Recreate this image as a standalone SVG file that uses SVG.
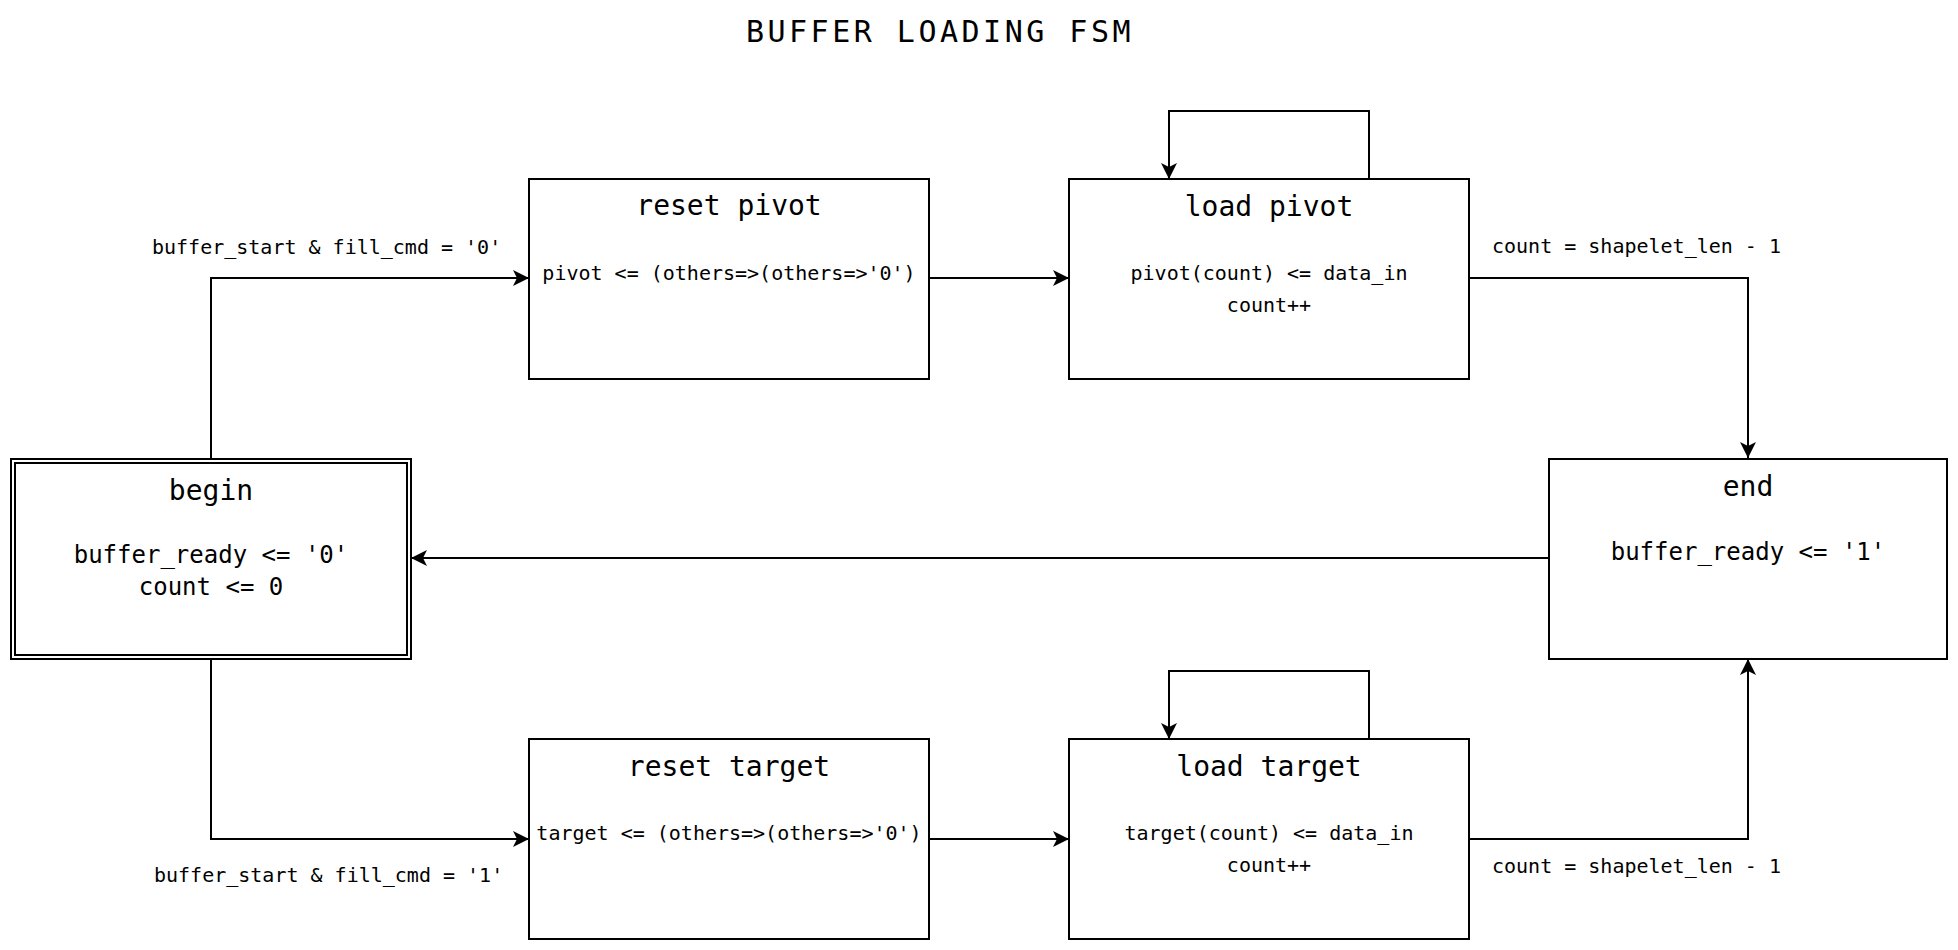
<svg xmlns="http://www.w3.org/2000/svg" width="1958" height="950" viewBox="0 0 1958 950">
<style>
text{font-family:"DejaVu Sans Mono","Liberation Mono",monospace;fill:#000;text-anchor:middle}
.title{font-size:30px;letter-spacing:3.5px}
.st{font-size:28px}
.big{font-size:24px}
.body{font-size:20px}
.lbl{font-size:20px;text-anchor:start}
.box{fill:#fff;stroke:#000;stroke-width:2}
.edge{fill:none;stroke:#000;stroke-width:2;marker-end:url(#arr)}
</style>
<defs>
<marker id="arr" markerUnits="userSpaceOnUse" markerWidth="18" markerHeight="18" refX="16" refY="8" orient="auto">
<path d="M0,0 L16,8 L0,16 L4,8 z" fill="#000"/>
</marker>
</defs>
<rect width="1958" height="950" fill="#fff"/>
<text class="title" x="940" y="42">BUFFER LOADING FSM</text>

<g id="connectors">
<path class="edge" d="M211,459 V278 H529"/>
<path class="edge" d="M211,659 V839 H529"/>
<path class="edge" d="M929,278 H1069"/>
<path class="edge" d="M929,839 H1069"/>
<path class="edge" d="M1369,179 V111 H1169 V179"/>
<path class="edge" d="M1369,739 V671 H1169 V739"/>
<path class="edge" d="M1469,278 H1748 V458"/>
<path class="edge" d="M1469,839 H1748 V659"/>
<path class="edge" d="M1549,558 H411"/>
<text class="lbl" x="152" y="254">buffer_start &amp; fill_cmd = '0'</text>
<text class="lbl" x="154" y="882">buffer_start &amp; fill_cmd = '1'</text>
<text class="lbl" x="1492" y="253">count = shapelet_len - 1</text>
<text class="lbl" x="1492" y="873">count = shapelet_len - 1</text>
</g>

<g id="begin">
<rect class="box" x="11" y="459" width="400" height="200"/>
<rect fill="none" stroke="#000" stroke-width="2" x="15" y="463" width="392" height="192"/>
<text class="st" x="211" y="500">begin</text>
<text class="big" x="211" y="563">buffer_ready &lt;= '0'</text>
<text class="big" x="211" y="595">count &lt;= 0</text>
</g>

<g id="reset_pivot">
<rect class="box" x="529" y="179" width="400" height="200"/>
<text class="st" x="729" y="215">reset pivot</text>
<text class="body" x="729" y="280">pivot &lt;= (others=&gt;(others=&gt;'0')</text>
</g>

<g id="load_pivot">
<rect class="box" x="1069" y="179" width="400" height="200"/>
<text class="st" x="1269" y="216">load pivot</text>
<text class="body" x="1269" y="280">pivot(count) &lt;= data_in</text>
<text class="body" x="1269" y="312">count++</text>
</g>

<g id="end">
<rect class="box" x="1549" y="459" width="398" height="200"/>
<text class="st" x="1748" y="496">end</text>
<text class="big" x="1748" y="560">buffer_ready &lt;= '1'</text>
</g>

<g id="reset_target">
<rect class="box" x="529" y="739" width="400" height="200"/>
<text class="st" x="729" y="776">reset target</text>
<text class="body" x="729" y="840">target &lt;= (others=&gt;(others=&gt;'0')</text>
</g>

<g id="load_target">
<rect class="box" x="1069" y="739" width="400" height="200"/>
<text class="st" x="1269" y="776">load target</text>
<text class="body" x="1269" y="840">target(count) &lt;= data_in</text>
<text class="body" x="1269" y="872">count++</text>
</g>
</svg>
